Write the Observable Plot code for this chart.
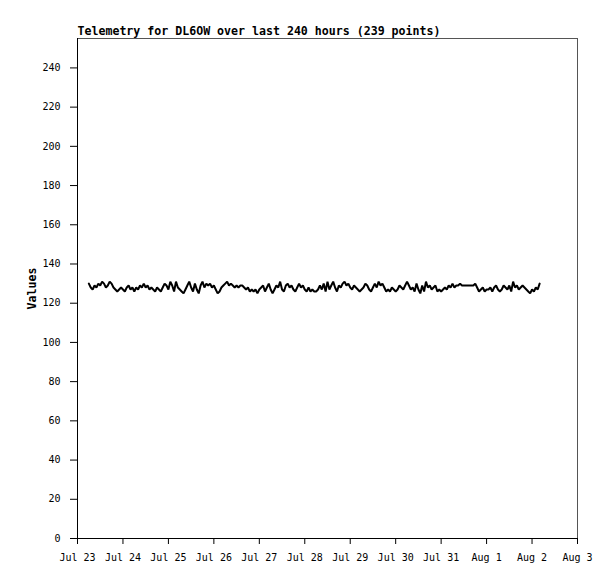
<!DOCTYPE html>
<html>
<head>
<meta charset="utf-8">
<script src="https://cdn.jsdelivr.net/npm/d3@7"></script>
<script src="https://cdn.jsdelivr.net/npm/@observablehq/plot@0.6"></script>
<style>
  html, body { margin: 0; padding: 0; background: #fff; }
  #chart { width: 615px; height: 579px; }
</style>
</head>
<body>
<div id="chart"></div>
<script>
const title = "Telemetry for DL6OW over last 240 hours (239 points)";
const yLabel = "Values";
const startTime = "2025-07-23T06:00:00Z"; // first sample, hourly samples
const xTicks = ["2025-07-23","2025-07-24","2025-07-25","2025-07-26","2025-07-27","2025-07-28","2025-07-29","2025-07-30","2025-07-31","2025-08-01","2025-08-02","2025-08-03"];
const yTicks = [0,20,40,60,80,100,120,140,160,180,200,220,240];
const values = [
  130,128,127,129,128,130,129,131,130,128,129,131,130,128,127,126,127,128,127,126,128,129,127,128,
  126,128,127,129,128,130,128,129,127,128,127,126,128,127,126,128,130,129,127,131,129,126,131,128,
  127,126,125,127,129,131,128,126,130,127,125,129,131,128,130,129,130,128,129,127,125,126,128,129,
  130,131,129,130,129,128,129,128,129,129,128,127,128,126,127,126,127,125,127,128,129,126,128,130,
  127,125,127,129,128,131,127,126,129,130,128,129,127,126,128,130,128,129,127,126,128,126,127,126,
  126,127,129,127,130,126,131,127,129,131,128,126,129,128,130,131,129,130,128,127,129,128,127,126,
  127,128,130,129,127,126,128,130,128,131,129,130,128,126,127,126,128,127,126,127,129,128,127,129,
  131,129,127,128,126,130,127,125,129,126,131,128,129,127,128,129,126,127,126,127,128,127,129,128,
  130,128,129,129,130,129,129,129,129,129,129,129,130,128,126,127,128,126,127,127,128,126,128,129,
  127,126,127,129,128,127,129,126,131,128,129,127,128,129,128,127,126,125,127,126,128,127,130
];

const t0 = new Date(startTime).getTime();
const data = values.map((v, i) => ({t: new Date(t0 + i * 3600000), v}));
const tickDates = xTicks.map(s => new Date(s + "T00:00:00Z"));
const fmt = d3.utcFormat("%b %-d");

const plot = Plot.plot({
  width: 615,
  height: 579,
  marginLeft: 77,
  marginRight: 38,
  marginTop: 38,
  marginBottom: 41,
  style: {fontFamily: "'DejaVu Sans Mono', monospace", fontSize: "10px", color: "#000", background: "#fff"},
  x: {type: "utc", domain: [tickDates[0], tickDates[tickDates.length - 1]]},
  y: {domain: [0, 255]},
  marks: [
    Plot.frame({stroke: "#555", strokeWidth: 1}),
    Plot.axisX({ticks: tickDates, tickFormat: fmt, tickSize: 6, tickPadding: 9, label: null, stroke: "#000"}),
    Plot.axisY({ticks: yTicks, tickSize: 7, tickPadding: 10, label: null, stroke: "#000"}),
    Plot.ruleX([tickDates[0]], {stroke: "#000"}),
    Plot.ruleY([0], {stroke: "#000"}),
    Plot.line(data, {x: "t", y: "v", stroke: "#000", strokeWidth: 2, strokeLinejoin: "miter"}),
    Plot.text([title], {frameAnchor: "top-left", textAnchor: "start", lineAnchor: "bottom", dy: -4, fontWeight: "bold", fontSize: 11.6}),
    Plot.text([yLabel], {frameAnchor: "left", textAnchor: "middle", rotate: -90, dx: -45, fontWeight: "bold", fontSize: 11.6})
  ]
});
document.getElementById("chart").appendChild(plot);
</script>
</body>
</html>
